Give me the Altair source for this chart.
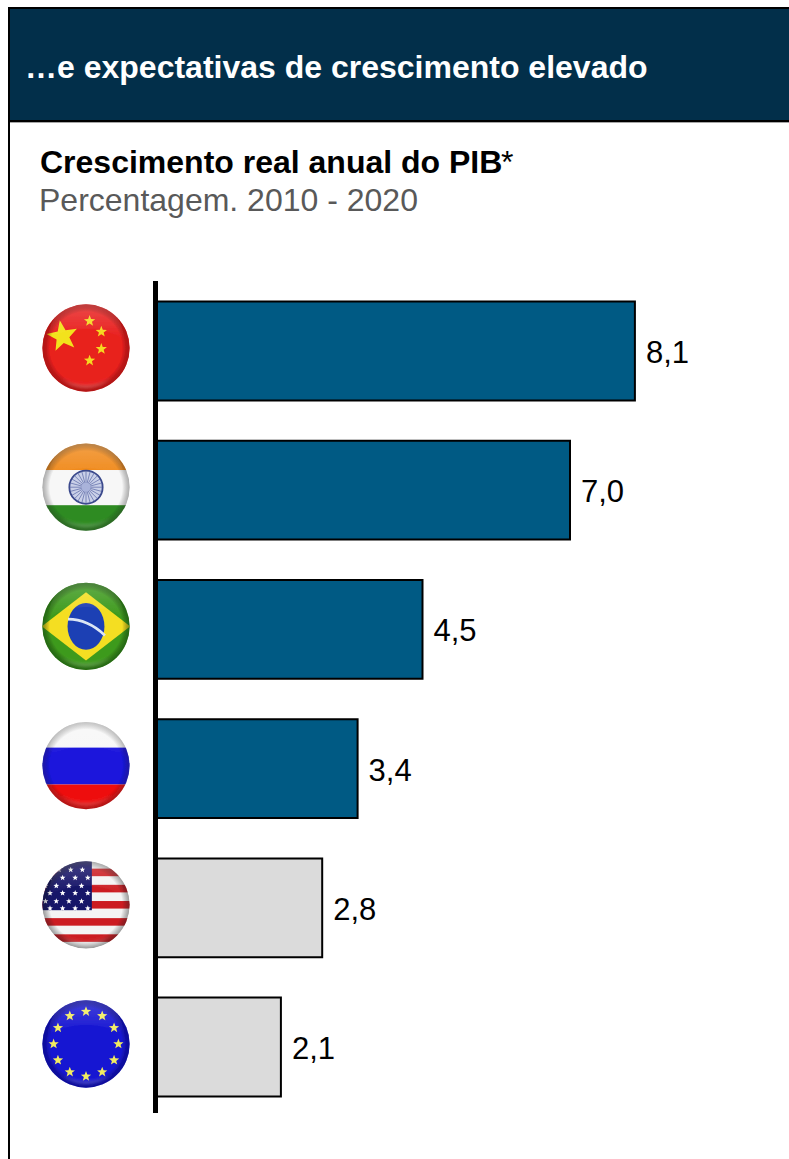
import math
from urllib.parse import quote

import altair as alt
import pandas as pd

# Chart values
countries = ["China", "Índia", "Brasil", "Rússia", "EUA", "UE"]
growth = [8.1, 7.0, 4.5, 3.4, 2.8, 2.1]
groups = ["emergente", "emergente", "emergente", "emergente", "avançada", "avançada"]

# Chart text
header_text = "…e expectativas de crescimento elevado"
title_text = "Crescimento real anual do PIB"
title_mark = "*"
subtitle_text = "Percentagem. 2010 - 2020"

FONT = "Liberation Sans"


def star(cx, cy, r, fill, rotation=0.0):
    """Five-pointed star polygon for the flag badges."""
    pts = []
    for i in range(10):
        rad = r if i % 2 == 0 else r * 0.42
        a = math.radians(-90 + 36 * i + rotation)
        pts.append(f"{cx + rad * math.cos(a):.2f},{cy + rad * math.sin(a):.2f}")
    return f'<polygon points="{" ".join(pts)}" fill="{fill}"/>'


def badge(body, edge="#000000", ring=0.38):
    """Wrap a flag drawing in a round, glossy button."""
    svg = (
        '<svg xmlns="http://www.w3.org/2000/svg" width="200" height="200" viewBox="0 0 100 100">'
        '<defs>'
        '<clipPath id="c"><circle cx="50" cy="50" r="48.5"/></clipPath>'
        '<filter id="b" x="-10%" y="-10%" width="120%" height="120%"><feGaussianBlur stdDeviation="0.5"/></filter>'
        '<filter id="s" x="-20%" y="-20%" width="140%" height="140%"><feGaussianBlur stdDeviation="1.6"/></filter>'
        '<radialGradient id="r" cx="50%" cy="50%" r="50%">'
        '<stop offset="0.82" stop-color="#000" stop-opacity="0"/>'
        f'<stop offset="1" stop-color="{edge}" stop-opacity="{ring}"/>'
        '</radialGradient>'
        '<linearGradient id="g" x1="0" y1="0" x2="0" y2="1">'
        '<stop offset="0" stop-color="#fff" stop-opacity="0.2"/>'
        '<stop offset="1" stop-color="#fff" stop-opacity="0"/>'
        '</linearGradient>'
        '</defs>'
        '<g filter="url(#b)"><g clip-path="url(#c)">'
        f'{body}'
        '<circle cx="50" cy="50" r="49" fill="url(#r)"/>'
        '<path d="M8 40 A42 42 0 0 1 92 40 A60 40 0 0 0 8 40 Z" fill="url(#g)"/>'
        '<path d="M22 84 A42 42 0 0 0 78 84 A50 42 0 0 1 22 84 Z" fill="#fff" fill-opacity="0.2" filter="url(#s)"/>'
        '</g></g></svg>'
    )
    return "data:image/svg+xml," + quote(svg)


def flag_china():
    body = '<rect width="100" height="100" fill="#E8201F"/>'
    body += star(24, 37, 18, "#F2E21A", -10)
    for cx, cy in [(54, 20), (67, 32), (67, 51), (54, 64)]:
        body += star(cx, cy, 6.6, "#F5D820")
    return badge(body, "#7a0000", 0.5)


def flag_india():
    body = '<rect width="100" height="31" fill="#F08A1C"/>'
    body += '<rect y="31" width="100" height="39" fill="#F7F7F7"/>'
    body += '<rect y="70" width="100" height="30" fill="#2E8B22"/>'
    body += '<circle cx="50" cy="50" r="18.5" fill="#C9D0E8" stroke="#3B4A8C" stroke-width="2"/>'
    for i in range(24):
        a = math.radians(15 * i)
        body += (
            f'<line x1="50" y1="50" x2="{50 + 18 * math.cos(a):.2f}" y2="{50 + 18 * math.sin(a):.2f}" '
            'stroke="#5A68A6" stroke-width="0.8"/>'
        )
    body += '<circle cx="50" cy="50" r="5" fill="#A9B3DA"/>'
    return badge(body, "#333333", 0.4)


def flag_brazil():
    body = '<rect width="100" height="100" fill="#3E9A1E"/>'
    body += '<polygon points="1,50 50,12 99,50 50,88" fill="#F4DE22"/>'
    body += '<ellipse cx="50" cy="50" rx="20.5" ry="26" fill="#1C3FB4"/>'
    body += '<path d="M30 42 Q52 42 71 60" fill="none" stroke="#DCE6F4" stroke-width="3"/>'
    return badge(body, "#0c3a05", 0.55)


def flag_russia():
    body = '<rect width="100" height="30" fill="#F7F7F7"/>'
    body += '<rect y="30" width="100" height="41" fill="#1A14DC"/>'
    body += '<rect y="71" width="100" height="29" fill="#EE1010"/>'
    return badge(body, "#333333", 0.35)


def flag_usa():
    body = '<rect width="100" height="100" fill="#F4F4F4"/>'
    for y in [14, 32, 50, 69, 87]:
        body += f'<rect y="{y - 4.2}" width="100" height="8.4" fill="#CC1F24"/>'
    body += '<rect width="56.5" height="56" fill="#161468"/>'
    for row, y in enumerate([11, 20, 29, 37, 46, 54]):
        xs = [20, 33, 46] if row == 0 else ([10, 24, 38, 52] if row % 2 == 1 else [5, 17, 31, 45])
        for x in xs:
            body += star(x, y, 3.4, "#FFFFFF")
    return badge(body, "#222222", 0.45)


def flag_eu():
    body = '<rect width="100" height="100" fill="#1716D2"/>'
    for i in range(12):
        a = math.radians(30 * i)
        body += star(50 + 36 * math.cos(a), 50 + 36 * math.sin(a), 6, "#F2EC60")
    return badge(body, "#00006a", 0.55)


flags = [flag_china(), flag_india(), flag_brazil(), flag_russia(), flag_usa(), flag_eu()]

table = pd.DataFrame(
    {
        "pais": countries,
        "valor": growth,
        "grupo": groups,
        "rotulo": [f"{v:.1f}".replace(".", ",") for v in growth],
        "bandeira": flags,
    }
)

x_scale = alt.Scale(domain=[0, 10], range=[157, 747])
y_scale = alt.Scale(
    domain=countries,
    range=[281.4, 1116.6],
    paddingInner=0.29,
    paddingOuter=0.145,
)
x_enc = alt.X("valor:Q", scale=x_scale, axis=None)
y_enc = alt.Y("pais:N", scale=y_scale, axis=None, sort=countries)

# Dark header band and the frame around the panel
header_band = alt.Chart().mark_rect(color="#022F4A").encode(
    x=alt.value(8), x2=alt.value(789), y=alt.value(8), y2=alt.value(121)
)
frame_top = alt.Chart().mark_rule(color="#000000", strokeWidth=2).encode(
    x=alt.value(8), x2=alt.value(789), y=alt.value(8)
)
header_shade = alt.Chart().mark_rule(color="#A6A6A6", strokeWidth=1).encode(
    x=alt.value(8), x2=alt.value(789), y=alt.value(122.5)
)
frame_bottom = alt.Chart().mark_rule(color="#000000", strokeWidth=2).encode(
    x=alt.value(8), x2=alt.value(789), y=alt.value(121)
)
frame_left = alt.Chart().mark_rule(color="#000000", strokeWidth=2).encode(
    x=alt.value(9), y=alt.value(8), y2=alt.value(1159)
)

header_label = alt.Chart().mark_text(
    font=FONT, fontSize=32, fontWeight="bold", color="#FFFFFF", align="left", baseline="alphabetic"
).encode(x=alt.value(25), y=alt.value(78), text=alt.value(header_text))

title_label = alt.Chart().mark_text(
    font=FONT, fontSize=32, fontWeight="bold", color="#000000", align="left", baseline="alphabetic"
).encode(x=alt.value(40), y=alt.value(173), text=alt.value(title_text))

title_star = alt.Chart().mark_text(
    font=FONT, fontSize=32, color="#000000", align="left", baseline="alphabetic"
).encode(x=alt.value(501), y=alt.value(173), text=alt.value(title_mark))

subtitle_label = alt.Chart().mark_text(
    font=FONT, fontSize=32, color="#595959", align="left", baseline="alphabetic"
).encode(x=alt.value(39), y=alt.value(211), text=alt.value(subtitle_text))

# Vertical baseline shared by the bars
baseline = alt.Chart().mark_rule(color="#000000", strokeWidth=5).encode(
    x=alt.value(155.5), y=alt.value(281), y2=alt.value(1113)
)

bars = alt.Chart(table).mark_bar(stroke="#000000", strokeWidth=2).encode(
    x=x_enc,
    x2=alt.datum(0),
    y=y_enc,
    color=alt.Color(
        "grupo:N",
        scale=alt.Scale(domain=["emergente", "avançada"], range=["#005A84", "#DBDBDB"]),
        legend=None,
    ),
)

values = alt.Chart(table).mark_text(
    font=FONT, fontSize=31, color="#000000", align="left", baseline="middle", dx=11, dy=3
).encode(x=x_enc, y=y_enc, text="rotulo:N")

badges = alt.Chart(table).mark_image(width=90, height=90, yOffset=-3).encode(
    x=alt.value(86), y=y_enc, url="bandeira:N"
)

chart = (
    alt.layer(
        header_band,
        frame_top,
        header_shade,
        frame_bottom,
        frame_left,
        header_label,
        title_label,
        title_star,
        subtitle_label,
        baseline,
        bars,
        values,
        badges,
    )
    .properties(width=789, height=1159, padding=0, autosize=alt.AutoSizeParams(type="none"), background="#FFFFFF")
    .configure_view(stroke=None)
)

chart.save("out.html", embed_options={"renderer": "svg", "actions": False})
